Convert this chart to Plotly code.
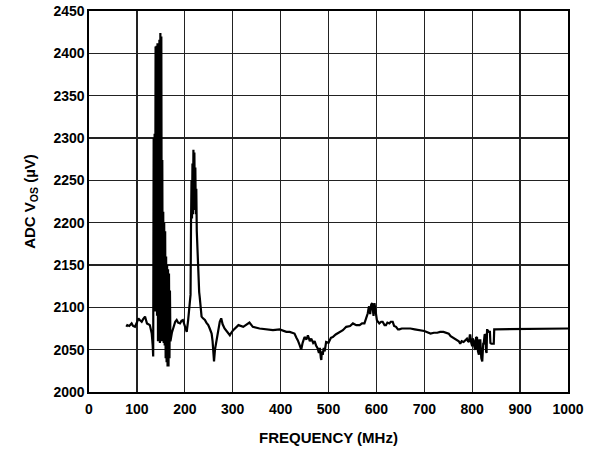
import plotly.graph_objects as go

# ---- data (frequency in MHz, ADC VOS in µV) ----
start_freq = [78, 80, 84, 89, 92, 96, 100, 103, 106, 110, 113, 117, 119, 121, 124, 127, 129, 131, 133]
start_vos = [2077, 2079, 2078, 2081, 2078, 2077, 2082, 2087, 2085, 2083, 2086, 2089, 2085, 2081, 2080, 2079, 2074, 2069, 2055]

burst1_freq = [134, 135, 136, 137, 138, 139, 140, 141, 142, 143, 144, 145, 146, 147, 148, 149, 150, 151,
               152, 153, 154, 155, 156, 157, 158, 159, 160, 161, 162, 163, 164, 165, 166, 167, 168, 169]
burst1_vos = [2042, 2300, 2095, 2305, 2100, 2408, 2095, 2409, 2090, 2412, 2060, 2411, 2065, 2416, 2058, 2424, 2060, 2420,
              2062, 2274, 2060, 2213, 2058, 2200, 2055, 2190, 2040, 2160, 2035, 2150, 2030, 2145, 2030, 2140, 2040, 2120]

mid1_freq = [170, 173, 176, 180, 183, 186, 190, 193, 196, 200, 204, 207, 209, 210, 212]
mid1_vos = [2060, 2070, 2075, 2083, 2085, 2082, 2081, 2084, 2085, 2078, 2071, 2085, 2098, 2105, 2115]

burst2_freq = [213, 214, 215, 216, 217, 218, 219, 220, 221, 222, 223, 224, 225, 226, 227, 228, 229, 230]
burst2_vos = [2200, 2250, 2205, 2270, 2210, 2286, 2215, 2283, 2220, 2265, 2210, 2240, 2190, 2170, 2160, 2140, 2125, 2118]

mid2_freq = [231, 233, 235, 238, 242, 245, 249, 252, 256, 258, 260, 261, 263, 266, 268, 271, 273, 276, 279, 283,
             288, 294, 297, 301, 312, 322, 335, 342, 356, 370, 384, 398, 412, 419, 425, 429, 433, 436, 440, 443,
             446, 450, 454, 457, 461, 464, 468, 471, 474, 477, 480, 482, 484, 485, 486, 488, 490, 492, 495, 500,
             505, 509, 515, 523, 530, 537, 545, 551, 558, 565, 570, 575]
mid2_vos = [2113, 2095, 2089, 2087, 2085, 2082, 2079, 2075, 2069, 2060, 2040, 2036, 2050, 2061, 2070, 2077, 2083, 2087, 2080, 2075,
            2071, 2067, 2070, 2073, 2079, 2077, 2082, 2077, 2075, 2074, 2073, 2074, 2071, 2071, 2070, 2069, 2064, 2061, 2055, 2050,
            2058, 2065, 2062, 2067, 2060, 2063, 2058, 2060, 2055, 2052, 2046, 2052, 2040, 2038, 2048, 2044, 2052, 2048, 2059, 2058,
            2064, 2065, 2068, 2071, 2073, 2077, 2078, 2081, 2079, 2079, 2081, 2081]

bump_freq = [580, 582, 584, 585, 587, 589, 591, 593, 594, 596, 598, 601, 603, 606, 610, 613, 617, 620, 623, 627,
             630, 634, 637, 641, 645, 648, 653, 658, 665, 671, 680, 692, 700, 713, 720, 727, 733, 740, 745, 751]
bump_vos = [2088, 2093, 2100, 2101, 2092, 2103, 2105, 2093, 2090, 2105, 2095, 2085, 2083, 2081, 2083, 2083, 2079, 2079, 2082, 2081,
            2083, 2083, 2078, 2077, 2074, 2074, 2075, 2075, 2075, 2075, 2074, 2073, 2072, 2069, 2070, 2070, 2071, 2071, 2070, 2069]

tail_freq = [755, 758, 763, 768, 772, 775, 778, 782, 786, 789, 791, 793, 795, 796, 798, 800, 801, 803, 805, 807,
             808, 810, 812, 814, 815, 817, 819, 821, 823, 824, 826, 828, 829, 830, 831, 832, 835, 837, 838, 840,
             845, 846, 848, 1000]
tail_vos = [2066, 2065, 2064, 2062, 2060, 2057, 2060, 2059, 2061, 2063, 2060, 2059, 2067, 2067, 2058, 2054, 2063, 2061, 2052, 2050,
            2064, 2065, 2048, 2044, 2061, 2061, 2040, 2036, 2057, 2057, 2068, 2067, 2048, 2046, 2073, 2073, 2071, 2071, 2058, 2057,
            2057, 2074, 2074, 2075]

x_ticks = [0, 100, 200, 300, 400, 500, 600, 700, 800, 900, 1000]
y_ticks = [2000, 2050, 2100, 2150, 2200, 2250, 2300, 2350, 2400, 2450]

freq = start_freq + burst1_freq + mid1_freq + burst2_freq + mid2_freq + bump_freq + tail_freq
vos = start_vos + burst1_vos + mid1_vos + burst2_vos + mid2_vos + bump_vos + tail_vos

FONT = "Liberation Sans, Arial, sans-serif"

fig = go.Figure()
fig.add_trace(go.Scatter(x=freq, y=vos, mode="lines",
                         line=dict(color="black", width=2.2), hoverinfo="skip", showlegend=False))

axis_common = dict(
    showgrid=True, gridcolor="#222222", gridwidth=1.2,
    showline=True, linecolor="black", linewidth=1.6, mirror=True,
    ticks="", zeroline=False, automargin=False,
    tickfont=dict(family=FONT, size=14, color="black", weight="bold"),
)

fig.update_layout(
    width=593, height=449,
    margin=dict(l=89, r=25, t=11, b=57),
    paper_bgcolor="white", plot_bgcolor="white",
    xaxis=dict(range=[0, 1000], tickvals=x_ticks, ticktext=[str(t) for t in x_ticks],
               ticklabelstandoff=4,
               title=dict(text="<b>FREQUENCY (MHz)</b>", standoff=16,
                          font=dict(family=FONT, size=15, color="black")),
               **axis_common),
    yaxis=dict(range=[2000, 2450], tickvals=y_ticks, ticktext=[str(t) for t in y_ticks],
               ticklabelstandoff=0,
               title=dict(text="<b>ADC V<sub>OS</sub> (µV)</b>", standoff=14,
                          font=dict(family=FONT, size=15, color="black")),
               **axis_common),
)

# remove the browser's default 8 px page margin so the figure sits at the window origin
fig.write_html("out.html",
               config={"displayModeBar": False, "staticPlot": True},
               post_script="document.body.style.margin='0';document.body.style.overflow='hidden';")
